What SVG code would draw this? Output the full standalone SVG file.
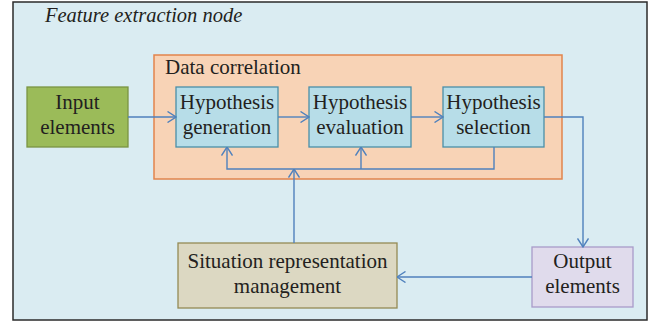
<svg xmlns="http://www.w3.org/2000/svg" width="651" height="324" viewBox="0 0 651 324">
  <style>
    text { font-family: "Liberation Serif", "Times New Roman", serif; font-size: 21px; fill: #231f20; }
    .title { font-size: 20.5px; font-style: italic; }
    .c { text-anchor: middle; }
    .hyp { fill: #b7dde8; stroke: #4a8fa8; stroke-width: 1.3; }
    .wire { fill: none; stroke: #4f81bd; stroke-width: 1.4; }
  </style>
  <defs>
    <marker id="chev" viewBox="0 0 10 12" refX="9.5" refY="6" markerWidth="10" markerHeight="12" markerUnits="userSpaceOnUse" orient="auto">
      <path d="M1,0.5 L9.5,6 L1,11.5" fill="none" stroke="#4f81bd" stroke-width="1.4"/>
    </marker>
  </defs>

  <rect x="0" y="0" width="651" height="324" fill="#ffffff"/>

  <!-- outer frame: feature extraction node -->
  <g id="feature-extraction-node">
    <rect x="13" y="2" width="634" height="318" fill="#daecf2" stroke="#2b2b2b" stroke-width="1.5"/>
    <text class="title" x="45" y="22">Feature extraction node</text>
  </g>

  <!-- data correlation container -->
  <g id="data-correlation">
    <rect x="154" y="55" width="408" height="124" fill="#f8d3b6" stroke="#e2844c" stroke-width="1.5"/>
    <text x="165" y="74">Data correlation</text>
  </g>

  <g id="input-elements">
    <rect x="27" y="87" width="101" height="60" fill="#9bbb59" stroke="#7a9443" stroke-width="1.3"/>
    <text class="c" x="77.5" y="109">Input</text>
    <text class="c" x="77.5" y="134">elements</text>
  </g>

  <g id="hypothesis-generation">
    <rect class="hyp" x="176" y="87" width="102" height="60"/>
    <text class="c" x="227" y="109">Hypothesis</text>
    <text class="c" x="227" y="134">generation</text>
  </g>

  <g id="hypothesis-evaluation">
    <rect class="hyp" x="309" y="87" width="102" height="60"/>
    <text class="c" x="360" y="109">Hypothesis</text>
    <text class="c" x="360" y="134">evaluation</text>
  </g>

  <g id="hypothesis-selection">
    <rect class="hyp" x="443" y="87" width="101" height="60"/>
    <text class="c" x="493.5" y="109">Hypothesis</text>
    <text class="c" x="493.5" y="134">selection</text>
  </g>

  <g id="output-elements">
    <rect x="532" y="247" width="101" height="60" fill="#e0dbec" stroke="#a99bc9" stroke-width="1.3"/>
    <text class="c" x="582.5" y="268">Output</text>
    <text class="c" x="582.5" y="293">elements</text>
  </g>

  <g id="situation-representation-management">
    <rect x="178" y="243" width="219" height="65" fill="#dcd8c2" stroke="#948a54" stroke-width="1.3"/>
    <text class="c" x="287.5" y="268">Situation representation</text>
    <text class="c" x="287.5" y="293">management</text>
  </g>

  <!-- connectors -->
  <g id="connectors">
    <path class="wire" d="M128,117 H176" marker-end="url(#chev)"/>
    <path class="wire" d="M278,117 H309" marker-end="url(#chev)"/>
    <path class="wire" d="M411,117 H443" marker-end="url(#chev)"/>
    <path class="wire" d="M544,117 H583 V247" marker-end="url(#chev)"/>
    <path class="wire" d="M532,277 H397" marker-end="url(#chev)"/>
    <!-- feedback loop from selection back to generation and evaluation -->
    <path class="wire" d="M494,147 V169 H227 V147" marker-end="url(#chev)"/>
    <path class="wire" d="M361,169 V147" marker-end="url(#chev)"/>
    <path class="wire" d="M294,243 V169" marker-end="url(#chev)"/>
  </g>
</svg>
